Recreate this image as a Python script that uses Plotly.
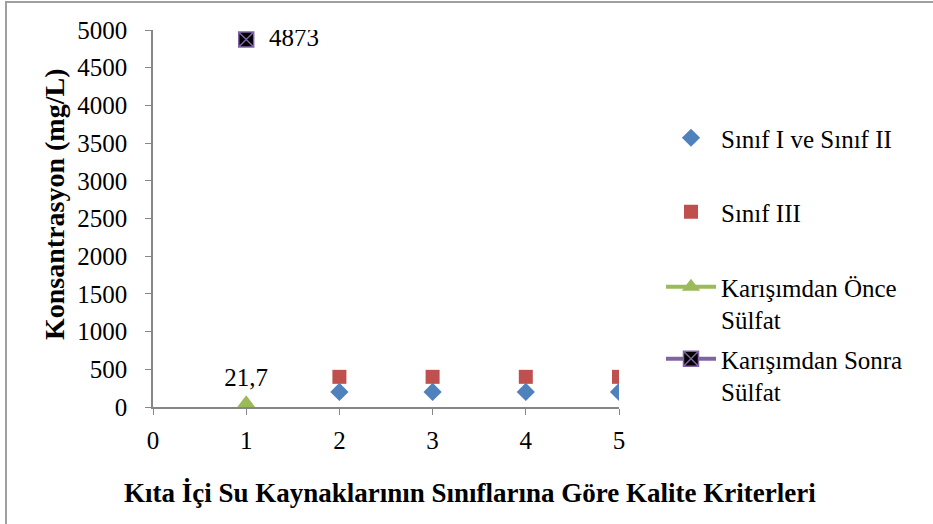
import plotly.graph_objects as go

# Data
x_sinif12 = [2, 3, 4, 5]
y_sinif12 = [200, 200, 200, 200]
x_sinif3 = [2, 3, 4, 5]
y_sinif3 = [400, 400, 400, 400]
x_once = [1]
y_once = [21.7]
x_sonra = [1]
y_sonra = [4873]

names = ["Sınıf I ve Sınıf II", "Sınıf III", "Karışımdan Önce<br>Sülfat", "Karışımdan Sonra<br>Sülfat"]
x_ticks = [0, 1, 2, 3, 4, 5]
y_ticks = [0, 500, 1000, 1500, 2000, 2500, 3000, 3500, 4000, 4500, 5000]
x_title = "Kıta İçi Su Kaynaklarının Sınıflarına Göre Kalite Kriterleri"
y_title = "Konsantrasyon (mg/L)"

FONT = "'Liberation Serif', 'Times New Roman', 'DejaVu Serif', serif"
W, H = 933, 524
L, R, T, B = 153, 314, 30, 117
PW, PH = W - L - R, H - T - B

def px_x(p):
    return (p - L) / PW

def px_y(p):
    return (H - B - p) / PH

def fmt(v):
    s = ("%g" % v)
    return s.replace(".", ",")

fig = go.Figure()
fig.add_trace(go.Scatter(x=x_sinif12, y=y_sinif12, mode="markers", name=names[0],
                         marker=dict(symbol="diamond", size=14, color="#4F81BD"),
                         legend="legend", showlegend=True))
fig.add_trace(go.Scatter(x=x_sinif3, y=y_sinif3, mode="markers", name=names[1],
                         marker=dict(symbol="square", size=14, color="#C0504D"),
                         legend="legend2", showlegend=True))
fig.add_trace(go.Scatter(x=x_once, y=y_once, mode="lines+markers+text", name=names[2],
                         line=dict(color="#9BBB59", width=4),
                         marker=dict(symbol="triangle-up", size=20, color="#9BBB59"),
                         text=[fmt(v) for v in y_once], textposition="top center",
                         textfont=dict(family=FONT, size=25, color="black"),
                         legend="legend3", showlegend=True))
fig.add_trace(go.Scatter(x=x_sonra, y=y_sonra, mode="lines+markers+text", name=names[3],
                         line=dict(color="#8064A2", width=4),
                         marker=dict(symbol="square-x", size=15, color="black",
                                     line=dict(color="#8064A2", width=1.5)),
                         text=["  " + fmt(v) for v in y_sonra], textposition="middle right",
                         textfont=dict(family=FONT, size=25, color="black"),
                         legend="legend4", showlegend=True))

def leg(ypix):
    return dict(x=661 / W, y=1 - ypix / H, xref="container", yref="container",
                xanchor="left", yanchor="top", bgcolor="rgba(0,0,0,0)",
                font=dict(family=FONT, size=25, color="black"),
                itemwidth=50, valign="top")

fig.update_layout(
    width=W, height=H,
    showlegend=True,
    margin=dict(l=L, r=R, t=T, b=B),
    paper_bgcolor="white", plot_bgcolor="white",
    font=dict(family=FONT, size=25, color="black"),
    legend=leg(115), legend2=leg(189), legend3=leg(264), legend4=leg(336),
    xaxis=dict(range=[0, 5], tickvals=x_ticks, showgrid=False, zeroline=False,
               showline=True, linecolor="#868686", linewidth=1.5,
               ticks="outside", ticklen=6, tickcolor="#868686",
               ticklabelstandoff=4,
               tickfont=dict(family=FONT, size=25, color="black")),
    yaxis=dict(range=[0, 5000], tickvals=y_ticks, showgrid=False, zeroline=False,
               showline=True, linecolor="#868686", linewidth=1.5,
               ticks="outside", ticklen=6, tickcolor="#868686",
               ticklabelstandoff=13,
               tickfont=dict(family=FONT, size=25, color="black")),
    annotations=[
        dict(text="<b>" + x_title + "</b>", xref="paper", yref="paper",
             x=px_x(470), y=px_y(493), xanchor="center", yanchor="middle",
             showarrow=False, font=dict(family=FONT, size=27, color="black")),
        dict(text="<b>" + y_title + "</b>", xref="paper", yref="paper",
             x=px_x(54), y=px_y(205), xanchor="center", yanchor="middle", textangle=-90,
             showarrow=False, font=dict(family=FONT, size=28, color="black")),
    ],
    shapes=[dict(type="rect", xref="paper", yref="paper",
                 x0=px_x(6), x1=px_x(W + 10),
                 y0=px_y(H + 10), y1=px_y(2),
                 line=dict(color="#A0A0A0", width=2), layer="below")],
)

fig.write_html("out.html", config={"displayModeBar": False},
               post_script="document.body.style.margin='0px';")
